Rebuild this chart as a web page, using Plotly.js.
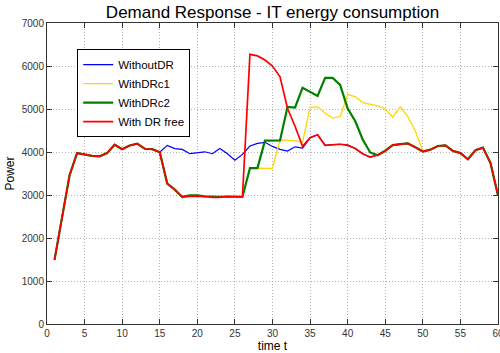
<!DOCTYPE html>
<html>
<head>
<meta charset="utf-8">
<script src="https://cdn.plot.ly/plotly-3.0.1.min.js"></script>
<style>html,body{margin:0;padding:0;background:#fff;}#chart{width:500px;height:353px;}</style>
</head>
<body>
<div id="chart"></div>
<script>
const time = Array.from({length: 60}, (_, i) => i + 1);

const withoutDR = [1490, 2480, 3456, 3975, 3935, 3910, 3900, 3975, 4170, 4065,
  4150, 4195, 4075, 4065, 3995, 4155, 4080, 4060, 3960, 3990,
  4005, 3960, 4080, 3960, 3810, 3945, 4140, 4200, 4225, 4130,
  4060, 4020, 4120, 4090, 4330, 4400, 4155, 4170, 4180, 4160,
  4080, 3960, 3880, 3930, 4030, 4160, 4185, 4200, 4110, 4010,
  4055, 4140, 4155, 4025, 3975, 3830, 4040, 4100, 3745, 2990];

const withDRc1 = [1490, 2480, 3456, 3975, 3935, 3910, 3900, 3975, 4170, 4065,
  4150, 4195, 4075, 4065, 3995, 3265, 3125, 2955, 2990, 2990,
  2970, 2955, 2955, 2965, 2955, 2955, 3625, 3620, 3620, 3620,
  4285, 4280, 4260, 4235, 5040, 5050, 4900, 4790, 4825, 5335,
  5290, 5150, 5115, 5070, 5000, 4810, 5050, 4825, 4490, 4020,
  4055, 4140, 4155, 4025, 3975, 3830, 4040, 4100, 3745, 2990];

const withDRc2 = [1490, 2480, 3456, 3975, 3935, 3910, 3900, 3975, 4170, 4065,
  4150, 4195, 4075, 4065, 3995, 3265, 3125, 2955, 2990, 2990,
  2970, 2955, 2955, 2965, 2955, 2955, 3625, 3625, 4265, 4265,
  4270, 5050, 5035, 5495, 5400, 5305, 5725, 5725, 5560, 5010,
  4720, 4290, 3990, 3925, 4030, 4160, 4185, 4200, 4110, 4010,
  4055, 4140, 4155, 4025, 3975, 3830, 4040, 4100, 3745, 2990];

const withDRfree = [1490, 2480, 3456, 3975, 3935, 3910, 3900, 3975, 4170, 4065,
  4150, 4195, 4075, 4065, 3995, 3265, 3125, 2955, 2970, 2970,
  2965, 2945, 2945, 2965, 2955, 2955, 6270, 6235, 6140, 6000,
  5750, 5010, 4600, 4130, 4330, 4400, 4155, 4170, 4180, 4160,
  4080, 3960, 3880, 3930, 4030, 4160, 4185, 4200, 4110, 4010,
  4055, 4140, 4155, 4025, 3975, 3830, 4040, 4100, 3745, 2990];

const seriesNames = ['WithoutDR', 'WithDRc1', 'WithDRc2', 'With DR free'];
const seriesColors = ['#0000ff', '#ffd700', '#008000', '#ff0000'];
const seriesWidths = [1.2, 1.3, 2.2, 1.7];
const seriesData = [withoutDR, withDRc1, withDRc2, withDRfree];

const xTicks = [0, 5, 10, 15, 20, 25, 30, 35, 40, 45, 50, 55, 60];
const yTicks = [0, 1000, 2000, 3000, 4000, 5000, 6000, 7000];

const traces = seriesNames.map((name, i) => ({
  x: time,
  y: seriesData[i],
  type: 'scatter',
  mode: 'lines',
  name: name,
  line: {color: seriesColors[i], width: seriesWidths[i]}
}));

const axisCommon = {
  showline: true,
  linecolor: '#333',
  linewidth: 1,
  mirror: 'ticks',
  ticks: 'inside',
  ticklen: 5,
  tickcolor: '#333',
  showgrid: true,
  gridcolor: '#b4b4b4',
  griddash: '1px,2px',
  gridwidth: 1,
  zeroline: false,
  ticklabeloverflow: 'allow',
  tickfont: {family: 'Liberation Sans, Arial, sans-serif', size: 10, color: '#333'}
};

const layout = {
  width: 500,
  height: 353,
  margin: {l: 47, r: 2, t: 23, b: 29},
  paper_bgcolor: '#fff',
  plot_bgcolor: '#fff',
  font: {family: 'Liberation Sans, Arial, sans-serif', color: '#000'},
  title: {
    text: 'Demand Response - IT energy consumption',
    font: {size: 17, color: '#000'},
    x: 0.545, xanchor: 'center', y: 0.965, yanchor: 'middle'
  },
  xaxis: Object.assign({}, axisCommon, {
    range: [0, 60],
    tickvals: xTicks,
    ticktext: xTicks.map(String),
    title: {text: 'time t', font: {size: 12, color: '#000'}, standoff: 0}
  }),
  yaxis: Object.assign({}, axisCommon, {
    range: [0, 7000],
    tickvals: yTicks,
    ticktext: yTicks.map(String),
    title: {text: 'Power', font: {size: 12, color: '#000'}, standoff: 4}
  }),
  showlegend: true,
  legend: {
    x: 0.067, y: 0.913, xanchor: 'left', yanchor: 'top',
    bgcolor: '#fff', bordercolor: '#000', borderwidth: 1,
    font: {size: 11.5, color: '#000'},
    tracegroupgap: 0,
    itemwidth: 30
  }
};

Plotly.newPlot('chart', traces, layout, {displayModeBar: false, staticPlot: true});
</script>
</body>
</html>
